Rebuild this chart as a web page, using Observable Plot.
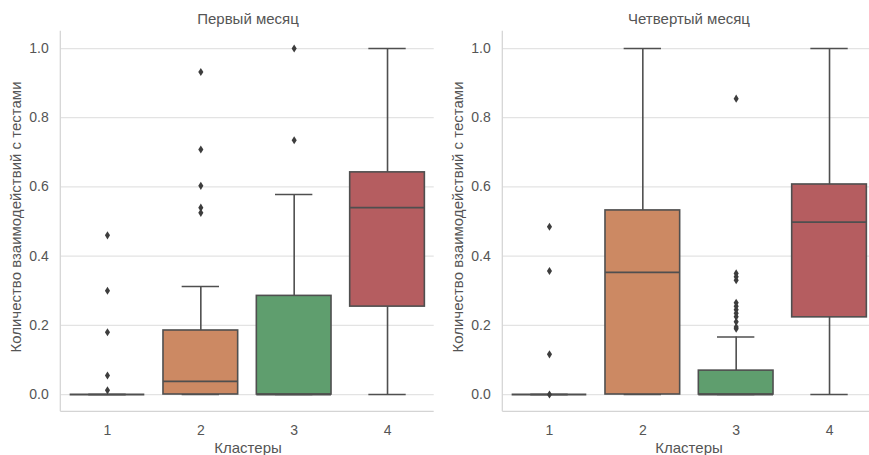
<!DOCTYPE html>
<html>
<head>
<meta charset="utf-8">
<script src="https://cdn.jsdelivr.net/npm/d3@7"></script>
<script src="https://cdn.jsdelivr.net/npm/@observablehq/plot@0.6"></script>
<style>
  html, body { margin: 0; padding: 0; background: #fff; }
  #wrap { position: relative; width: 869px; height: 455px; overflow: hidden; background: #fff;
          font-family: "Liberation Sans", Arial, sans-serif; color: #555; }
  .panel { position: absolute; top: 0; width: 440px; height: 455px; }
  .panel svg { max-width: none !important; display: block; }
  .lbl { position: absolute; font-size: 15px; line-height: 15px; white-space: nowrap; color: #555; }
  .ctr { transform: translateX(-50%); }
  .rot { transform: translate(-50%, -50%) rotate(-90deg); }
</style>
</head>
<body>
<div id="wrap"></div>
<script>
// ---- data ----
const clusters = ["1", "2", "3", "4"];
const palette = ["#5875a4", "#cc8963", "#5f9e6e", "#b55d60"];
const yTicks = [0, 0.2, 0.4, 0.6, 0.8, 1.0];

// Первый месяц
const m1Q1     = [0, 0,     0,     0.254];
const m1Median = [0, 0.038, 0,     0.540];
const m1Q3     = [0, 0.185, 0.285, 0.642];
const m1Low    = [0, 0,     0,     0];
const m1High   = [0, 0.312, 0.578, 1.0];
const m1Out1 = [0.46, 0.30, 0.18, 0.055, 0.012];
const m1Out2 = [0.932, 0.708, 0.603, 0.54, 0.525];
const m1Out3 = [1.0, 0.735];
const m1Out4 = [];

// Четвертый месяц
const m4Q1     = [0, 0,     0,     0.223];
const m4Median = [0, 0.353, 0,     0.498];
const m4Q3     = [0, 0.532, 0.069, 0.607];
const m4Low    = [0, 0,     0,     0];
const m4High   = [0, 1.0,   0.166, 1.0];
const m4Out1 = [0.485, 0.357, 0.116, 0.0];
const m4Out2 = [];
const m4Out3 = [0.855, 0.35, 0.34, 0.33, 0.265, 0.255, 0.245, 0.235, 0.225, 0.21, 0.195, 0.19];
const m4Out4 = [];

// ---- helpers ----
const thinDiamond = {
  draw(ctx, size) {
    const r = Math.sqrt(size / Math.PI);
    const w = r * 0.85, h = r * 1.35;
    ctx.moveTo(0, -h); ctx.lineTo(w, 0); ctx.lineTo(0, h); ctx.lineTo(-w, 0); ctx.closePath();
  }
};

function spines() {
  return (index, scales, values, dims) => {
    const {width, height, marginLeft, marginRight, marginTop, marginBottom} = dims;
    const g = d3.create("svg:g").attr("stroke", "#d4d4d4").attr("stroke-width", 1.25);
    g.append("line").attr("x1", marginLeft).attr("x2", marginLeft)
      .attr("y1", marginTop).attr("y2", height - marginBottom);
    g.append("line").attr("x1", marginLeft).attr("x2", width - marginRight)
      .attr("y1", height - marginBottom).attr("y2", height - marginBottom);
    return g.node();
  };
}

function makePanel(q1, med, q3, lo, hi, outs, mLeft, mRight) {
  const stats = clusters.map((c, i) => ({cluster: c, q1: q1[i], med: med[i], q3: q3[i], lo: lo[i], hi: hi[i]}));
  const outliers = clusters.flatMap((c, i) => outs[i].map(v => ({cluster: c, v})));
  const W = 440, H = 455;
  const bw = (W - mLeft - mRight) / 4;
  const boxInset = bw * 0.1, capInset = bw * 0.3;
  const edge = "#4f4f4f";
  return Plot.plot({
    width: W, height: H,
    marginLeft: mLeft, marginRight: mRight, marginTop: 30.7, marginBottom: 43.7,
    style: {fontFamily: "'Liberation Sans', Arial, sans-serif", fontSize: "14px", color: "#555", background: "transparent", overflow: "visible", maxWidth: "none"},
    x: {type: "band", domain: clusters, padding: 0, round: false, tickSize: 0, tickPadding: 13, label: null},
    y: {domain: [-0.05, 1.05], ticks: yTicks, tickFormat: d3.format(".1f"), tickSize: 0, tickPadding: 12, label: null},
    color: {domain: clusters, range: palette},
    marks: [
      Plot.ruleY(yTicks, {stroke: "#e3e3e3", strokeWidth: 1.25}),
      spines(),
      Plot.ruleX(stats, {x: "cluster", y1: "q3", y2: "hi", stroke: edge, strokeWidth: 1.6}),
      Plot.ruleX(stats, {x: "cluster", y1: "lo", y2: "q1", stroke: edge, strokeWidth: 1.6}),
      Plot.tickY(stats, {x: "cluster", y: "hi", stroke: edge, strokeWidth: 1.6, insetLeft: capInset, insetRight: capInset}),
      Plot.tickY(stats, {x: "cluster", y: "lo", stroke: edge, strokeWidth: 1.6, insetLeft: capInset, insetRight: capInset}),
      Plot.barY(stats, {x: "cluster", y1: "q1", y2: "q3", fill: "cluster", stroke: edge, strokeWidth: 1.6, insetLeft: boxInset, insetRight: boxInset}),
      Plot.tickY(stats, {x: "cluster", y: "med", stroke: edge, strokeWidth: 1.8, insetLeft: boxInset, insetRight: boxInset}),
      Plot.dot(outliers, {x: "cluster", y: "v", symbol: thinDiamond, r: 3, fill: "#3d3d3d", stroke: "none"})
    ]
  });
}

const wrap = document.getElementById("wrap");

function addPanel(left, svg, title, cx, ylabelX) {
  const div = document.createElement("div");
  div.className = "panel";
  div.style.left = left + "px";
  div.appendChild(svg);
  wrap.appendChild(div);
  const t = document.createElement("div");
  t.className = "lbl ctr"; t.style.left = cx + "px"; t.style.top = "11px"; t.textContent = title;
  wrap.appendChild(t);
  const xl = document.createElement("div");
  xl.className = "lbl ctr"; xl.style.left = cx + "px"; xl.style.top = "439.5px"; xl.textContent = "Кластеры";
  wrap.appendChild(xl);
  const yl = document.createElement("div");
  yl.className = "lbl rot"; yl.style.left = ylabelX + "px"; yl.style.top = "217px";
  yl.textContent = "Количество взаимодействий с тестами";
  wrap.appendChild(yl);
}

const p1 = makePanel(m1Q1, m1Median, m1Q3, m1Low, m1High, [m1Out1, m1Out2, m1Out3, m1Out4], 60.3, 6.3);
const p2 = makePanel(m4Q1, m4Median, m4Q3, m4Low, m4High, [m4Out1, m4Out2, m4Out3, m4Out4], 62.3, 4.3);
addPanel(0, p1, "Первый месяц", 248, 14.5);
addPanel(440, p2, "Четвертый месяц", 689, 456.5);
</script>
</body>
</html>
